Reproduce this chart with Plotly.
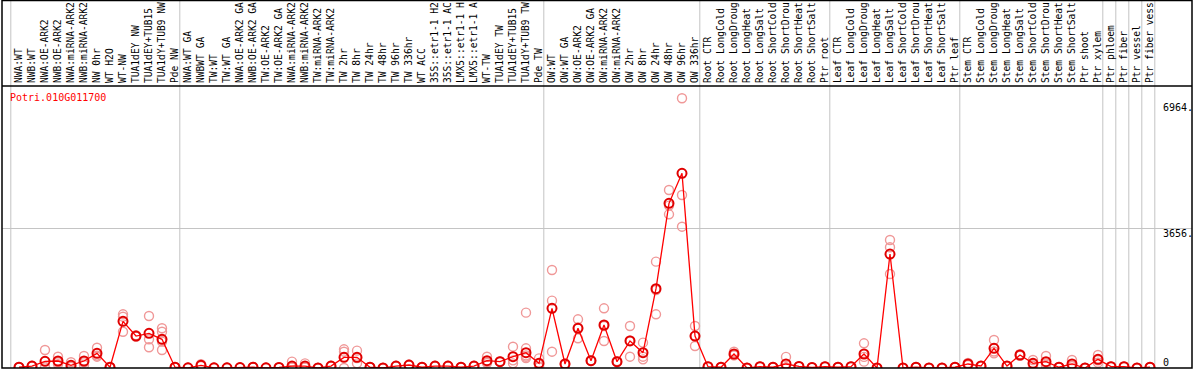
import plotly.graph_objects as go

gene = "Potri.010G011700"

categories = [
    "NWA:WT", "NWB:WT", "NWA:OE-ARK2", "NWB:OE-ARK2", "NWA:miRNA-ARK2", "NWB:miRNA-ARK2",
    "NW 0hr", "WT H2O", "WT-NW", "TUA1dEY NW", "TUA1dEY+TUB15", "TUA1dY+TUB9 NW", "Pde NW",
    "NWA:WT GA", "NWBWT GA", "TW:WT", "TW:WT GA", "NWA:OE-ARK2 GA", "NWB:OE-ARK2 GA",
    "TW:OE-ARK2", "TW:OE-ARK2 GA", "NWA:miRNA-ARK2", "NWB:miRNA-ARK2", "TW:miRNA-ARK2",
    "TW:miRNA-ARK2 ", "TW 2hr", "TW 8hr", "TW 24hr", "TW 48hr", "TW 96hr", "TW 336hr",
    "WT ACC", "35S::etr1-1 H2", "35S::etr1-1 AC", "LMX5::etr1-1 H", "LMX5::etr1-1 A",
    "WT-TW", "TUA1dEY TW", "TUA1dEY+TUB15 ", "TUA1dY+TUB9 TW", "Pde TW",
    "OW:WT", "OW:WT GA", "OW:OE-ARK2", "OW:OE-ARK2 GA", "OW:miRNA-ARK2", "OW:miRNA-ARK2 ",
    "OW 2hr", "OW 8hr", "OW 24hr", "OW 48hr", "OW 96hr", "OW 336hr",
    "Root CTR", "Root LongCold", "Root LongDroug", "Root LongHeat", "Root LongSalt",
    "Root ShortCold", "Root ShortDrou", "Root ShortHeat", "Root ShortSalt", "Ptr root",
    "Leaf CTR", "Leaf LongCold", "Leaf LongDroug", "Leaf LongHeat", "Leaf LongSalt",
    "Leaf ShortCold", "Leaf ShortDrou", "Leaf ShortHeat", "Leaf ShortSalt", "Ptr leaf",
    "Stem CTR", "Stem LongCold", "Stem LongDroug", "Stem LongHeat", "Stem LongSalt",
    "Stem ShortCold", "Stem ShortDrou", "Stem ShortHeat", "Stem ShortSalt", "Ptr shoot",
    "Ptr xylem", "Ptr phloem", "Ptr fiber", "Ptr vessel", "Ptr fiber vess",
]

means = [
    20, 50, 175, 183, 70, 183, 384, 20, 1222, 837, 907, 751, 20,
    5, 70, 5, 5, 10, 20, 5, 15, 50, 50, 0, 50, 279, 279, 20, 0, 50, 78,
    20, 50, 50, 20, 50, 192, 166, 296, 401, 122,
    1562, 105, 1039, 192, 1125, 166, 707, 401, 2076, 4310, 5095, 837,
    35, 20, 366, 0, 35, 20, 105, 40, 15, 35,
    20, 35, 366, 0, 2983, 0, 20, 0, 0, 20,
    105, 52, 515, 52, 340, 122, 166, 20, 105, 0,
    227, 35, 35, 0, 20,
]

replicates = [
    [10, 20, 30], [40, 50, 60], [470, 30, 20], [296, 150, 100], [150, 30, 30],
    [314, 150, 80], [531, 296, 325], [10, 20, 30], [1405, 1343, 950], [860, 820, 830],
    [1361, 751, 542], [1039, 950, 689, 471], [10, 20, 30],
    [0, 5, 10], [100, 60, 50], [0, 5, 10], [0, 5, 10], [5, 10, 15], [10, 20, 30],
    [0, 5, 10], [10, 15, 20], [166, 20, 10], [120, 20, 10], [0, 0, 0], [60, 50, 40],
    [489, 427, 0], [454, 122, 260], [10, 20, 30], [0, 0, 0], [60, 50, 40], [90, 70, 70],
    [10, 20, 30], [60, 50, 40], [60, 50, 40], [10, 20, 30], [60, 50, 40],
    [296, 150, 130], [180, 160, 160], [558, 122, 200], [1448, 515, 330, 296, 260],
    [253, 100, 20],
    [2565, 1762, 427], [105, 100, 110], [1274, 777, 1060], [192, 180, 200],
    [1562, 707, 1100], [166, 150, 180], [1099, 296, 720], [663, 296, 227],
    [2783, 1405, 2040], [4659, 4022, 4250], [7058, 4528, 3698], [1099, 576, 840],
    [30, 35, 40], [10, 20, 30], [427, 330, 340], [0, 0, 0], [30, 35, 40], [10, 20, 30],
    [290, 20, 5], [40, 45, 35], [10, 15, 20], [30, 35, 40],
    [10, 20, 30], [30, 35, 40], [646, 166, 290], [0, 0, 0], [3350, 3159, 2460],
    [0, 0, 0], [10, 20, 30], [0, 0, 0], [0, 0, 0], [10, 20, 30],
    [105, 80, 130], [50, 52, 55], [733, 384, 430], [50, 52, 55], [340, 360, 320],
    [209, 100, 60], [314, 60, 120], [10, 20, 30], [209, 60, 50], [0, 0, 0],
    [340, 200, 140], [30, 35, 40], [30, 35, 40], [0, 0, 0], [10, 20, 30],
]

y_ticks = [0, 3656, 6964]
y_tick_text = ["0", "3656.", "6964."]
grid_values = [3656]
group_breaks = [-0.5, 12.5, 40.5, 52.5, 62.5, 72.5, 83.5, 84.5, 85.5, 86.5, 87.5]

FONT = "DejaVu Sans Mono"
W, H = 1194, 370
ML, MR, MT, MB = 2, 2, 86, 2
PLOT_W = W - ML - MR
PLOT_H = H - MT - MB
PX_PER_CAT = 13.0
x0 = -(19 - ML) / PX_PER_CAT
x1 = x0 + PLOT_W / PX_PER_CAT
y_top = 7380

xs = list(range(len(categories)))
rx, ry = [], []
for i, reps in enumerate(replicates):
    for v in reps:
        rx.append(i)
        ry.append(v)

fig = go.Figure()
fig.add_trace(go.Scatter(
    x=rx, y=ry, mode="markers",
    marker=dict(symbol="circle-open", size=9, color="#f09898", line=dict(width=1.4)),
    hoverinfo="skip", showlegend=False,
))
fig.add_trace(go.Scatter(
    x=xs, y=means, mode="lines+markers",
    line=dict(color="#ff0000", width=1.3),
    marker=dict(symbol="circle-open", size=9, color="#e00000", line=dict(width=2)),
    text=categories, hovertemplate="%{text}: %{y}<extra></extra>", showlegend=False,
))

top_paper = 1 + (MT - 0.6) / PLOT_H
shapes = []
for b in group_breaks:
    shapes.append(dict(type="line", xref="x", yref="paper", x0=b - 0.13, x1=b - 0.13,
                       y0=0, y1=top_paper, line=dict(color="#c4c4c4", width=1), layer="below"))
shapes.append(dict(type="rect", xref="paper", yref="paper", x0=0, x1=1, y0=0, y1=top_paper,
                   line=dict(color="black", width=1.5)))
shapes.append(dict(type="line", xref="paper", yref="paper", x0=0, x1=1, y0=1, y1=1,
                   line=dict(color="black", width=1.5)))

annotations = [dict(
    text=gene, xref="paper", yref="paper", x=(8 - ML) / PLOT_W, y=1 - 4 / PLOT_H,
    xanchor="left", yanchor="top", showarrow=False,
    font=dict(family=FONT, size=10, color="#ff0000"),
)]
for v, t in zip(y_ticks, y_tick_text):
    if v == 0:
        annotations.append(dict(text=t, xref="paper", yref="y", x=(1161 - ML) / PLOT_W, y=v,
                                xanchor="left", yanchor="bottom", yshift=-2, showarrow=False,
                                font=dict(family=FONT, size=10, color="black")))
    else:
        annotations.append(dict(text=t, xref="paper", yref="y", x=(1161 - ML) / PLOT_W, y=v,
                                xanchor="left", yanchor="top", yshift=2, showarrow=False,
                                font=dict(family=FONT, size=10, color="black")))

fig.update_layout(
    width=W, height=H,
    margin=dict(l=ML, r=MR, t=MT, b=MB, pad=0),
    paper_bgcolor="white", plot_bgcolor="white",
    shapes=shapes, annotations=annotations,
    xaxis=dict(
        range=[x0, x1], side="top", tickmode="array", tickvals=xs, ticktext=categories,
        tickangle=-90, tickfont=dict(family=FONT, size=9.6, color="black"),
        ticks="", ticklabelstandoff=2, showgrid=False, zeroline=False, showline=False,
        automargin=False, fixedrange=True,
    ),
    yaxis=dict(
        range=[0, y_top], tickmode="array", tickvals=grid_values, showticklabels=False,
        showgrid=True, gridcolor="#c4c4c4", gridwidth=1, zeroline=False, showline=False,
        ticks="", automargin=False, fixedrange=True,
    ),
)

fig.write_html(
    "out.html",
    config={"displayModeBar": False},
    post_script="document.body.style.margin='0';document.body.style.overflow='hidden';",
)
